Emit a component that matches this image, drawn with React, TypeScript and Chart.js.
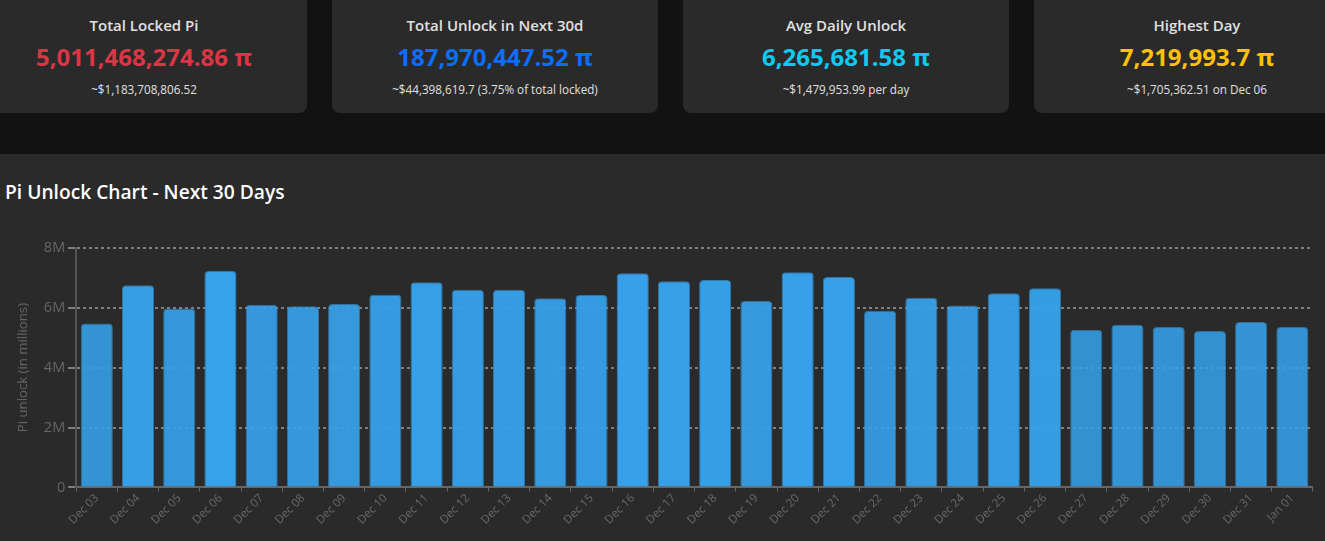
import React, { useEffect, useRef } from 'react';
import { Chart, registerables } from 'chart.js';

Chart.register(...registerables);

const days = [
  'Dec 03', 'Dec 04', 'Dec 05', 'Dec 06', 'Dec 07', 'Dec 08', 'Dec 09', 'Dec 10', 'Dec 11', 'Dec 12',
  'Dec 13', 'Dec 14', 'Dec 15', 'Dec 16', 'Dec 17', 'Dec 18', 'Dec 19', 'Dec 20', 'Dec 21', 'Dec 22',
  'Dec 23', 'Dec 24', 'Dec 25', 'Dec 26', 'Dec 27', 'Dec 28', 'Dec 29', 'Dec 30', 'Dec 31', 'Jan 01',
];
const unlocks = [
  5.47, 6.75, 5.97, 7.22, 6.1, 6.05, 6.12, 6.43, 6.85, 6.6,
  6.6, 6.31, 6.42, 7.15, 6.88, 6.92, 6.22, 7.18, 7.02, 5.9,
  6.33, 6.07, 6.48, 6.65, 5.26, 5.43, 5.35, 5.22, 5.52, 5.35,
].map((v) => v * 1000000);

const cardTitles = ['Total Locked Pi', 'Total Unlock in Next 30d', 'Avg Daily Unlock', 'Highest Day'];
const cardValues = ['5,011,468,274.86 π', '187,970,447.52 π', '6,265,681.58 π', '7,219,993.7 π'];
const cardNotes = [
  '~$1,183,708,806.52',
  '~$44,398,619.7 (3.75% of total locked)',
  '~$1,479,953.99 per day',
  '~$1,705,362.51 on Dec 06',
];
const cardColors = ['#dc3545', '#0d6efd', '#0dcaf0', '#ffc107'];

const FONT = '"Open Sans", "Noto Sans", sans-serif';

const barColor = (v: number, edge: boolean) => {
  const max = Math.max(...unlocks);
  const a = 0.5 + 0.5 * (v / max);
  return edge ? `rgba(54,140,200,${a * 0.8})` : `rgba(54,162,235,${a})`;
};

const App: React.FC = () => {
  const canvasRef = useRef<HTMLCanvasElement>(null);

  useEffect(() => {
    document.body.style.margin = '0';
    document.body.style.background = '#121212';
    const chart = new Chart(canvasRef.current, {
      type: 'bar',
      data: {
        labels: days,
        datasets: [
          {
            data: unlocks,
            backgroundColor: (ctx: any) => barColor(ctx.raw, false),
            borderColor: (ctx: any) => barColor(ctx.raw, true),
            borderWidth: 1,
            borderRadius: 4,
            barPercentage: 0.78,
            categoryPercentage: 1,
          },
        ],
      },
      options: {
        animation: false,
        responsive: false,
        layout: { padding: { left: 15, right: 0, top: 2, bottom: 14 } },
        plugins: { legend: { display: false }, tooltip: { enabled: false } },
        scales: {
          x: {
            grid: { display: true, drawOnChartArea: false, color: '#666666', tickLength: 4 },
            border: { color: '#666666', width: 2 },
            ticks: {
              color: '#6a6a6a',
              padding: 0,
              font: { family: FONT, size: 11.5 },
              maxRotation: 45,
              minRotation: 45,
              autoSkip: false,
            },
          },
          y: {
            min: 0,
            max: 8000000,
            border: { color: '#555555', width: 2, dash: [3, 3] },
            grid: { color: 'rgba(255,255,255,0.4)', lineWidth: 2 },
            ticks: {
              stepSize: 2000000,
              color: '#666666',
              font: { family: FONT, size: 14.5 },
              callback: (v: any) => (v === 0 ? '0' : `${v / 1000000}M`),
            },
            title: {
              display: true,
              text: 'Pi unlock (in millions)',
              color: '#666666',
              padding: { top: 0, bottom: 10 },
              font: { family: FONT, size: 13.2 },
            },
          },
        },
      },
    } as any);
    return () => {
      chart.destroy();
    };
  }, []);

  return (
    <div style={{ position: 'relative', width: 1325, height: 541, overflow: 'hidden', background: '#121212', fontFamily: FONT }}>
      {cardTitles.map((title, i) => (
        <div
          key={title}
          style={{
            position: 'absolute',
            left: -19 + i * 351,
            top: -20,
            width: 326,
            height: 133,
            background: '#2a2a2a',
            borderRadius: 8,
            textAlign: 'center',
          }}
        >
          <div style={{ position: 'absolute', top: 35, width: '100%', fontSize: 15, fontWeight: 600, color: '#e0e0e0' }}>{title}</div>
          <div style={{ position: 'absolute', top: 60, width: '100%', fontSize: 24, fontWeight: 700, color: cardColors[i] }}>{cardValues[i]}</div>
          <div style={{ position: 'absolute', top: 101, width: '100%', fontSize: 11.7, color: '#e0e0e0' }}>{cardNotes[i]}</div>
        </div>
      ))}
      <div style={{ position: 'absolute', left: 0, top: 154, width: 1325, height: 387, background: '#2a2a2a' }} />
      <div style={{ position: 'absolute', left: 5, top: 178, fontSize: 19.2, fontWeight: 600, color: '#ffffff' }}>Pi Unlock Chart - Next 30 Days</div>
      <canvas ref={canvasRef} width={1313} height={305} style={{ position: 'absolute', left: 0, top: 236 }} />
    </div>
  );
};

export default App;
